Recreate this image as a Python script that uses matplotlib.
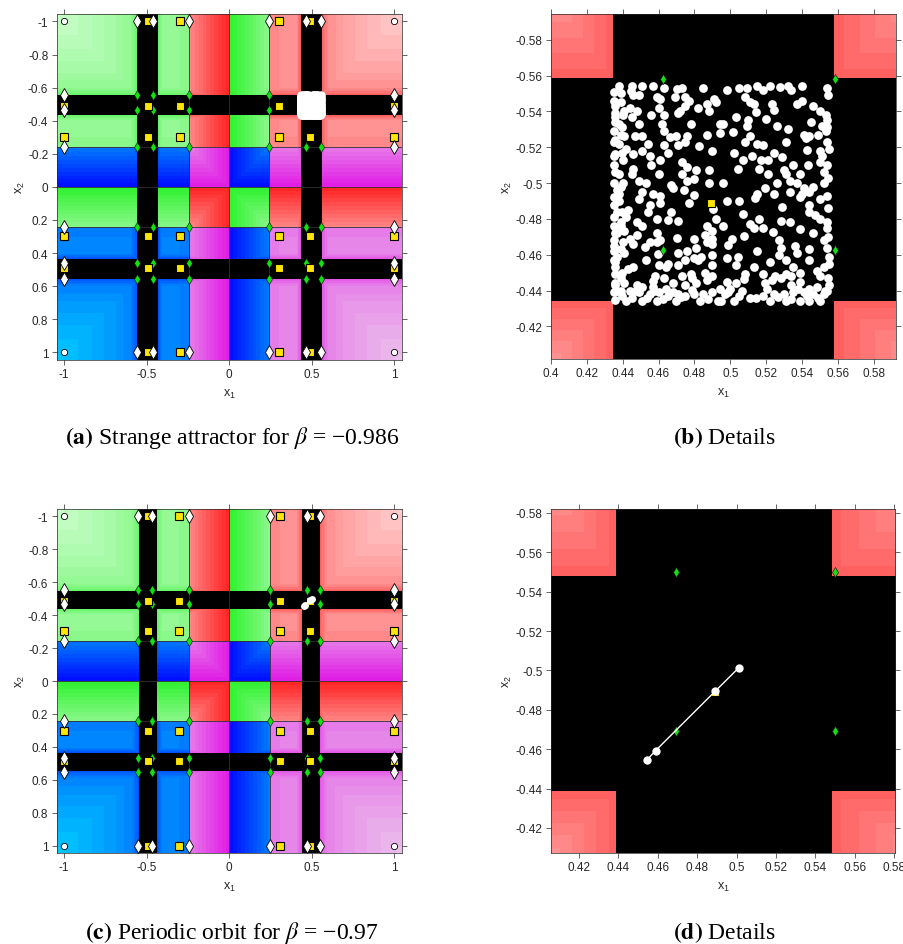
import numpy as np
import matplotlib
matplotlib.use('Agg')
import matplotlib.pyplot as plt
from matplotlib.ticker import FuncFormatter

plt.rcParams['font.family'] = ['Liberation Sans', 'DejaVu Sans']
plt.rcParams['mathtext.fontset'] = 'stix'
plt.rcParams['mathtext.default'] = 'regular'

# ---- values ----
# beta = -0.986
band_a = [0.434, 0.558]        # |x| range of the black strips
split_a = 0.242                # colour switches at 0 and +-split
diam_a = [-0.558, -0.4625, -0.242, 0.242, 0.4625, 0.558]
sq_a = [-1, -0.489, -0.30, 0.30, 0.489, 1]

# beta = -0.97
band_c = [0.4386, 0.548]
split_c = 0.245
diam_c = [-0.55, -0.4695, -0.245, 0.245, 0.4695, 0.55]
sq_c = [-1, -0.489, -0.305, 0.305, 0.489, 1]

orbit_x = [0.4544, 0.4589, 0.4891, 0.5011]
orbit_y = [-0.4545, -0.4593, -0.4894, -0.5013]

attractor = [
    (.438, -.554), (.445, -.554), (.451, -.554), (.457, -.554), (.463, -.553), (.473, -.553), (.485, -.553), (.491, -.547),
    (.439, -.550), (.446, -.549), (.449, -.549), (.459, -.548), (.461, -.547), (.469, -.548), (.475, -.548), (.477, -.546),
    (.487, -.544), (.492, -.545), (.436, -.543), (.444, -.542), (.441, -.540), (.448, -.540), (.460, -.542), (.472, -.540),
    (.475, -.543), (.482, -.542), (.488, -.540), (.436, -.537), (.440, -.538), (.445, -.537), (.456, -.538), (.463, -.538),
    (.438, -.533), (.449, -.533), (.462, -.533), (.471, -.539), (.478, -.533), (.494, -.533), (.435, -.529), (.441, -.526),
    (.447, -.526), (.451, -.526), (.463, -.529), (.470, -.526), (.476, -.526), (.487, -.527), (.494, -.528), (.438, -.522),
    (.442, -.519), (.454, -.522), (.451, -.518), (.463, -.521), (.475, -.523), (.471, -.521), (.436, -.516), (.446, -.516),
    (.455, -.515), (.465, -.517), (.490, -.518), (.440, -.513), (.461, -.513), (.473, -.512), (.476, -.509), (.456, -.510),
    (.446, -.508), (.488, -.507), (.481, -.507), (.438, -.505), (.445, -.505), (.449, -.501), (.460, -.505), (.473, -.505),
    (.476, -.501), (.480, -.502), (.435, -.500), (.440, -.500), (.453, -.500), (.467, -.499), (.488, -.500), (.496, -.500),
    (.498, -.552), (.505, -.553), (.515, -.554), (.522, -.554), (.518, -.552), (.532, -.554), (.534, -.552), (.540, -.554),
    (.554, -.553), (.508, -.548), (.511, -.545), (.513, -.544), (.523, -.544), (.524, -.541), (.537, -.544), (.540, -.546),
    (.546, -.543), (.550, -.540), (.553, -.538), (.503, -.537), (.510, -.535), (.509, -.532), (.520, -.536), (.526, -.532),
    (.532, -.530), (.545, -.534), (.551, -.532), (.554, -.535), (.496, -.533), (.541, -.527), (.542, -.525), (.544, -.526),
    (.549, -.527), (.553, -.529), (.511, -.526), (.508, -.523), (.515, -.522), (.518, -.521), (.531, -.523), (.554, -.523),
    (.502, -.517), (.512, -.515), (.507, -.513), (.517, -.513), (.521, -.513), (.524, -.517), (.550, -.518), (.551, -.515),
    (.504, -.508), (.516, -.508), (.521, -.505), (.530, -.507), (.535, -.510), (.531, -.505), (.539, -.505), (.543, -.510),
    (.550, -.512), (.554, -.510), (.552, -.506), (.526, -.500), (.533, -.501), (.537, -.500), (.546, -.498), (.552, -.500),
    (.519, -.497), (.541, -.497),
    (.438, -.494), (.451, -.495), (.457, -.494), (.461, -.493), (.468, -.497), (.474, -.496), (.438, -.490), (.449, -.491),
    (.455, -.488), (.461, -.489), (.477, -.489), (.4905, -.4855), (.437, -.484), (.443, -.485), (.454, -.484), (.467, -.484),
    (.435, -.481), (.442, -.481), (.459, -.480), (.471, -.479), (.492, -.480), (.439, -.476), (.448, -.478), (.451, -.476),
    (.459, -.472), (.487, -.476), (.490, -.473), (.437, -.472), (.441, -.473), (.444, -.469), (.448, -.471), (.435, -.468),
    (.440, -.467), (.446, -.466), (.455, -.467), (.459, -.467), (.461, -.468), (.480, -.469), (.486, -.471), (.490, -.469),
    (.481, -.464), (.487, -.467), (.490, -.466), (.435, -.462), (.441, -.461), (.437, -.459), (.453, -.457), (.471, -.461),
    (.476, -.462), (.480, -.458), (.475, -.457), (.471, -.454), (.482, -.457), (.490, -.460), (.490, -.454), (.436, -.453),
    (.446, -.453), (.443, -.452), (.460, -.454), (.464, -.453), (.465, -.455), (.436, -.449), (.439, -.447), (.458, -.448),
    (.463, -.447), (.473, -.448), (.478, -.449), (.486, -.450), (.490, -.448), (.436, -.443), (.441, -.444), (.448, -.443),
    (.451, -.442), (.457, -.442), (.468, -.444), (.464, -.441), (.475, -.443), (.481, -.444), (.487, -.446), (.435, -.439),
    (.439, -.440), (.444, -.440), (.449, -.439), (.455, -.438), (.460, -.439), (.465, -.437), (.471, -.438), (.475, -.437),
    (.480, -.438), (.485, -.438), (.490, -.439), (.494, -.441), (.436, -.435), (.442, -.434), (.451, -.434), (.459, -.434),
    (.470, -.434), (.483, -.434), (.493, -.434),
    (.515, -.494), (.524, -.494), (.533, -.495), (.540, -.494), (.544, -.495), (.554, -.493), (.498, -.490), (.505, -.490),
    (.539, -.492), (.544, -.488), (.550, -.491), (.507, -.483), (.544, -.484), (.547, -.482), (.550, -.480), (.554, -.478),
    (.496, -.476), (.511, -.477), (.516, -.480), (.518, -.475), (.528, -.479), (.533, -.478), (.546, -.472), (.554, -.475),
    (.501, -.469), (.513, -.475), (.527, -.468), (.528, -.464), (.536, -.465), (.537, -.461), (.552, -.468), (.554, -.464),
    (.544, -.463), (.498, -.458), (.504, -.459), (.515, -.462), (.527, -.460), (.531, -.457), (.544, -.457), (.503, -.454),
    (.513, -.453), (.522, -.456), (.535, -.453), (.552, -.453), (.555, -.455), (.508, -.449), (.518, -.449), (.525, -.448),
    (.531, -.449), (.539, -.450), (.548, -.451), (.550, -.448), (.498, -.445), (.503, -.444), (.500, -.441), (.519, -.444),
    (.523, -.446), (.528, -.447), (.534, -.443), (.539, -.445), (.544, -.441), (.548, -.442), (.554, -.440), (.555, -.443),
    (.497, -.438), (.505, -.437), (.511, -.436), (.518, -.437), (.524, -.438), (.530, -.438), (.535, -.439), (.541, -.439),
    (.546, -.438), (.552, -.438), (.495, -.434), (.502, -.434), (.522, -.434), (.531, -.434), (.539, -.434), (.544, -.434),
    (.550, -.434),
    (.435, -.546), (.436, -.524), (.435, -.510), (.437, -.496), (.435, -.476), (.436, -.456), (.437, -.440), (.435, -.488),
    (.436, -.534),
    (.4355, -.551), (.4392, -.545), (.4358, -.539), (.4395, -.531), (.4352, -.523), (.4398, -.517), (.4357, -.506),
    (.4391, -.498), (.4354, -.492), (.4396, -.484), (.4359, -.472), (.4393, -.463), (.4351, -.457), (.4397, -.450),
    (.4356, -.444), (.4394, -.437), (.4353, -.515), (.4390, -.527), (.4355, -.465), (.4392, -.478),
    (.4455, -.4360), (.4475, -.4395), (.4535, -.4358), (.4575, -.4400), (.4625, -.4352), (.4680, -.4390), (.4725, -.4362),
    (.4785, -.4405), (.4875, -.4355), (.4985, -.4392), (.5065, -.4400), (.5145, -.4357), (.5205, -.4410), (.5265, -.4362),
    (.5335, -.4355), (.5375, -.4408), (.5425, -.4372), (.5485, -.4359), (.5525, -.4395), (.4570, -.4455), (.4785, -.4470),
    (.5075, -.4465), (.5335, -.4480),
    (.5545, -.549), (.5540, -.531), (.5548, -.519), (.5542, -.503), (.5546, -.486), (.5541, -.470), (.5547, -.459),
    (.5543, -.447), (.4445, -.5515), (.4705, -.5525), (.5095, -.5530), (.5275, -.5535),
    (.4665, -.5255), (.4825, -.5205), (.5015, -.5285), (.5145, -.5395), (.5285, -.5145), (.5425, -.5185), (.4985, -.4655),
    (.5075, -.4705), (.5235, -.4725), (.5385, -.4745), (.4705, -.4695), (.4835, -.4585), (.4595, -.4605), (.5135, -.4915),
    (.5285, -.4865), (.4795, -.4935), (.4655, -.4795), (.4525, -.4645),
]
attr_x = [p[0] for p in attractor]
attr_y = [p[1] for p in attractor]

# region colours: saturated and washed-out end of each hue
hue_dark = {'green': (0.20, 0.95, 0.20), 'red': (1.0, 0.15, 0.15),
            'blue': (0.0, 0.06, 1.0), 'magenta': (0.88, 0.12, 0.90)}
hue_light = {'green': (0.90, 1.0, 0.90), 'red': (1.0, 0.92, 0.92),
             'blue': (0.0, 0.92, 1.0), 'magenta': (0.93, 0.86, 0.93)}


def shade(v, band, split):
    knots = [0, split, band[0] - 0.035, band[0], band[1], band[1] + 0.04, 0.7, 0.85, 1.1]
    vals = [0.0, 0.52, 0.6, 0.32, 0.32, 0.55, 0.66, 0.76, 0.9]
    return np.interp(np.abs(v), knots, vals)


def background(ax, xlim, ylim, band, split, n=700):
    xs = np.linspace(xlim[0], xlim[1], n)
    ys = np.linspace(ylim[0], ylim[1], n)
    X, Y = np.meshgrid(xs, ys)
    w = np.minimum(shade(X, band, split), shade(Y, band, split))
    w = np.floor(w / 0.05) * 0.05
    cx = ((X > -split) & (X < 0)) | (X > split)
    cy = ((Y > -split) & (Y < 0)) | (Y > split)
    img = np.zeros(X.shape + (3,))
    for key, m in [('green', ~cx & ~cy), ('red', cx & ~cy),
                   ('blue', ~cx & cy), ('magenta', cx & cy)]:
        d = np.array(hue_dark[key])
        l = np.array(hue_light[key])
        img[m] = d + w[m][:, None] * (l - d)
    strip = (((np.abs(X) > band[0]) & (np.abs(X) < band[1])) |
             ((np.abs(Y) > band[0]) & (np.abs(Y) < band[1])))
    img[strip] = 0
    ax.imshow(img, extent=(xlim[0], xlim[1], ylim[0], ylim[1]), origin='lower',
              interpolation='nearest', aspect='auto', zorder=0)
    for v in (-split, 0, split):
        ax.axvline(v, color='#303030', lw=0.6, zorder=1)
        ax.axhline(v, color='#303030', lw=0.6, zorder=1)


def fixed_points(ax, diam, sq, z=3):
    gx, gy = np.meshgrid(diam, diam)
    ax.plot(gx.ravel(), gy.ravel(), 'd', ms=5, mfc='#12e012', mec='#0a0a0a', mew=0.4, zorder=z)
    sx = [x for x in sq for y in sq if abs(x) < 1 or abs(y) < 1]
    sy = [y for x in sq for y in sq if abs(x) < 1 or abs(y) < 1]
    ax.plot(sx, sy, 's', ms=5.3, mfc='#ffe600', mec='k', mew=0.8, zorder=z)
    ex = [s for s in (-1, 1) for v in diam] + [v for s in (-1, 1) for v in diam]
    ey = [v for s in (-1, 1) for v in diam] + [s for s in (-1, 1) for v in diam]
    ax.plot(ex, ey, 'd', ms=7, mfc='white', mec='k', mew=0.6, zorder=z)
    ax.plot([-1, -1, 1, 1], [-1, 1, -1, 1], 'o', ms=4.5, mfc='white', mec='k', mew=0.6, zorder=z)


def style(ax, xlim, ylim, xt, yt):
    ax.set_xlim(xlim)
    ax.set_ylim(ylim[1], ylim[0])
    ax.set_xticks(xt)
    ax.set_yticks(yt)
    fmt = FuncFormatter(lambda v, p: '%g' % (round(v, 4) + 0))
    ax.xaxis.set_major_formatter(fmt)
    ax.yaxis.set_major_formatter(fmt)
    ax.tick_params(direction='out', length=3.5, width=0.5, colors='#262626',
                   labelsize=8.5, top=True, right=True, pad=2.5)
    for s in ax.spines.values():
        s.set_linewidth(0.5)
        s.set_color('#262626')
    ax.set_xlabel('x$_1$', fontsize=9, color='#262626', labelpad=5)
    ax.set_ylabel('x$_2$', fontsize=9, color='#262626', labelpad=1)


fig = plt.figure(figsize=(9.04, 9.45), dpi=100)

big_ticks_x = [-1, -0.5, 0, 0.5, 1]
big_ticks_y = [-1, -0.8, -0.6, -0.4, -0.2, 0, 0.2, 0.4, 0.6, 0.8, 1]
zoom_ticks_x = [0.4, 0.42, 0.44, 0.46, 0.48, 0.5, 0.52, 0.54, 0.56, 0.58]
zoom_ticks_y = [-0.58, -0.56, -0.54, -0.52, -0.5, -0.48, -0.46, -0.44, -0.42]

# (a)
ax = fig.add_axes([0.0627, 0.6183, 0.3816, 0.3658])
lim_a = (-1.045, 1.045)
background(ax, lim_a, lim_a, band_a, split_a)
fixed_points(ax, diam_a, sq_a)
ax.plot(attr_x, attr_y, 'o', ms=6, mfc='white', mec='none', zorder=4)
style(ax, lim_a, lim_a, big_ticks_x, big_ticks_y)

# (b)
ax = fig.add_axes([0.6092, 0.6190, 0.3816, 0.3651])
xl, yl = (0.4, 0.592), (-0.5943, -0.4018)
background(ax, xl, yl, band_a, split_a, n=600)
ax.plot(attr_x, attr_y, 'o', ms=6.3, mfc='white', mec='none', zorder=2)
fixed_points(ax, diam_a, sq_a)
style(ax, xl, yl, zoom_ticks_x, zoom_ticks_y)

# (c)
ax = fig.add_axes([0.0627, 0.0963, 0.3816, 0.3640])
background(ax, lim_a, lim_a, band_c, split_c)
fixed_points(ax, diam_c, sq_c)
ax.plot(orbit_x, orbit_y, '-o', color='white', lw=1, ms=5, mfc='white', mec='none', zorder=4)
style(ax, lim_a, lim_a, big_ticks_x, big_ticks_y)

# (d)
ax = fig.add_axes([0.6092, 0.0963, 0.3812, 0.3640])
xl, yl = (0.4056, 0.5807), (-0.582, -0.4073)
background(ax, xl, yl, band_c, split_c, n=600)
fixed_points(ax, diam_c, sq_c)
ax.plot(orbit_x, orbit_y, '-o', color='white', lw=1, ms=6, mfc='white', mec='none', zorder=4)
style(ax, xl, yl, zoom_ticks_x[1:], zoom_ticks_y)

cap = dict(ha='center', va='baseline', fontsize=17, family='Liberation Serif', color='black')
fig.text(0.2568, 0.530, r'$\mathbf{(a)}$ Strange attractor for $\mathit{\beta}$ = −0.986', **cap)
fig.text(0.801, 0.530, r'$\mathbf{(b)}$ Details', **cap)
fig.text(0.2568, 0.0063, r'$\mathbf{(c)}$ Periodic orbit for $\mathit{\beta}$ = −0.97', **cap)
fig.text(0.801, 0.0063, r'$\mathbf{(d)}$ Details', **cap)

fig.savefig('out.png', dpi=100)
